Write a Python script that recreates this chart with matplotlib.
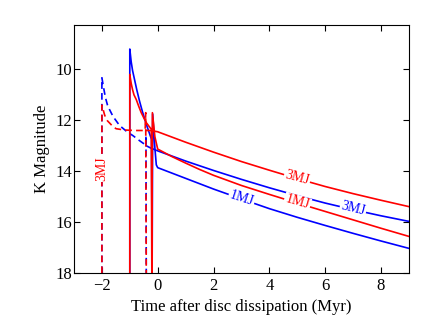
import numpy as np
import matplotlib
matplotlib.use("Agg")
import matplotlib.pyplot as plt

# =========================
# DATA
# =========================

# blue dashed: formed at t=-2
blue_dash_t = [-2, -2, -1.95, -1.9, -1.85, -1.8, -1.73, -1.6, -1.37, -1.1, -0.89, -0.65, -0.47, -0.43, -0.42, -0.41]
blue_dash_k = [18, 10.33, 10.65, 10.95, 11.2, 11.4, 11.57, 11.85, 12.2, 12.45, 12.6, 12.8, 12.94, 12.98, 12.6, 18]

# red dashed: formed at t=-2
red_dash_t = [-2, -2, -1.95, -1.9, -1.85, -1.8, -1.73, -1.6, -1.49, -1.2, -0.8, -0.45, -0.43, -0.41]
red_dash_k = [18, 11.4, 11.6, 11.8, 11.92, 12.02, 12.1, 12.25, 12.33, 12.38, 12.4, 12.4, 11.7, 18]

# blue 3MJ, after dissipation
blue3_t = [-0.41, -0.23, 0, 1, 2, 3, 4, 5, 6, 7, 8, 9]
blue3_k = [13.0, 13.1, 13.2, 13.6, 13.97, 14.32, 14.65, 14.96, 15.25, 15.51, 15.75, 15.97]

# red 3MJ, after dissipation
red3_t = [-0.41, -0.25, 0, 1, 2, 3, 4, 5, 6, 7, 8, 9]
red3_k = [12.4, 12.4, 12.45, 12.86, 13.25, 13.62, 13.96, 14.29, 14.6, 14.88, 15.14, 15.39]

# blue 1MJ: formed at t=-1
blue1_t = [-1, -1, -0.95, -0.9, -0.83, -0.75, -0.65, -0.55, -0.41, -0.3, -0.22, -0.2, -0.18,
           -0.1, -0.05, 0, 1, 2, 3, 4, 5, 6, 7, 8, 9]
blue1_k = [18, 9.2, 9.7, 10.05, 10.4, 10.8, 11.25, 11.65, 12.15, 12.5, 12.75, 18, 11.75,
           13.1, 13.75, 13.86, 14.28, 14.7, 15.09, 15.47, 15.81, 16.13, 16.44, 16.74, 17.03]

# red 1MJ: formed at t=-1
red1_t = [-1, -1, -0.95, -0.9, -0.85, -0.77, -0.68, -0.59, -0.5, -0.41, -0.3, -0.23, -0.21, -0.19,
          -0.1, 0, 0.5, 1, 1.5, 2, 3, 4, 5, 6, 7, 8, 9]
red1_k = [18, 10.2, 10.55, 10.8, 11.0, 11.18, 11.45, 11.7, 11.9, 12.09, 12.25, 12.35, 18, 11.7,
          12.65, 13.13, 13.42, 13.68, 13.93, 14.16, 14.56, 14.91, 15.25, 15.58, 15.91, 16.24, 16.56]

# labels on the lines: text, t, K, rotation, colour
label_text = ["3MJ", "3MJ", "1MJ", "1MJ", "3MJ"]
label_t = [-2.0, 5.0, 5.0, 3.0, 7.0]
label_k = [13.9, 14.25, 15.23, 15.09, 15.48]
label_rot = [90, -15, -16, -18, -14]
label_col = ["red", "red", "red", "blue", "blue"]

xticks = [-2, 0, 2, 4, 6, 8]
yticks = [10, 12, 14, 16, 18]

# =========================
# PLOT
# =========================

plt.rcParams["font.family"] = ["Liberation Serif", "DejaVu Serif"]

fig = plt.figure(figsize=(4.36, 3.27), dpi=100)
ax = fig.add_axes([0.1697, 0.165, 0.768, 0.759])

dash = (0, (4, 2.5))
lw = 1.2

ax.plot(blue_dash_t, blue_dash_k, color="blue", lw=lw, linestyle=dash)
ax.plot(blue1_t, blue1_k, color="blue", lw=lw)
ax.plot(blue3_t, blue3_k, color="blue", lw=lw)
ax.plot(red_dash_t, red_dash_k, color="red", lw=lw, linestyle=dash)
ax.plot(red1_t, red1_k, color="red", lw=lw)
ax.plot(red3_t, red3_k, color="red", lw=lw)

for txt, t, k, r, c in zip(label_text, label_t, label_k, label_rot, label_col):
    ax.text(t, k, txt, color=c, fontsize=10, rotation=r, ha="center", va="center",
            bbox=dict(facecolor="white", edgecolor="none", pad=0.8))

ax.set_xlim(-3, 9)
ax.set_ylim(18, 8.25)
ax.set_xticks(xticks)
ax.set_yticks(yticks)
ax.set_xticklabels(["\u2212" + str(-v) if v < 0 else str(v) for v in xticks])
ax.tick_params(direction="in", top=True, right=True, length=4, width=0.8, labelsize=12)
ax.tick_params(axis="y", pad=1)

ax.set_xlabel("Time after disc dissipation (Myr)", fontsize=12)
ax.set_ylabel("K Magnitude", fontsize=12)

fig.savefig("out.png", dpi=100)
